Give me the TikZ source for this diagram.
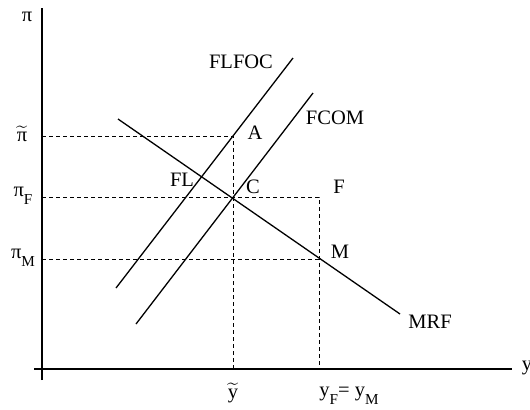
\documentclass[tikz,border=0pt]{standalone}
\usepackage{amsmath}
\usepackage{fontspec}
\setmainfont{Liberation Serif}
\usepackage{tikz}
\usetikzlibrary{positioning}
\newcommand{\lsub}[1]{\raisebox{-0.4em}{\fontsize{7.6}{8}\selectfont #1}}

\begin{document}
\begin{tikzpicture}[
  x=0.5pt, y=-0.5pt,
  font=\fontsize{10.25}{12}\selectfont,
  axis/.style={draw, line width=1pt},
  curve/.style={draw, line width=0.65pt},
  guide/.style={draw, line width=0.5pt, dash pattern=on 2pt off 1.5pt},
  lab/.style={inner sep=0pt},
]
  \useasboundingbox (0,0) rectangle (530,409);

  % axis ends and reference points
  \coordinate (ytop) at (42,8);
  \coordinate (ybot) at (42,380);
  \coordinate (xleft) at (34,369);
  \coordinate (xright) at (512,369);
  \coordinate (pitil) at (42,136);
  \coordinate (piF) at (42,197);
  \coordinate (piM) at (42,259);
  \coordinate (ytil) at (233,369);
  \coordinate (yF) at (319,369);
  \coordinate (ptM) at (319,259);

  % curve ends
  \coordinate (mrfA) at (118,119);
  \coordinate (mrfB) at (400,314);
  \coordinate (flA) at (116,288);
  \coordinate (flB) at (293,58);
  \coordinate (fcA) at (136,324);
  \coordinate (fcB) at (313,93);

  % dashed guides
  \draw[guide] (pitil) -| (ytil);
  \draw[guide] (piF) -| (yF);
  \draw[guide] (piM) -- (ptM);

  % axes
  \draw[axis] (ybot) -- (ytop);
  \draw[axis] (xleft) -- (xright);

  % schedules
  \draw[curve] (mrfA) -- (mrfB);
  \draw[curve] (flA) -- (flB);
  \draw[curve] (fcA) -- (fcB);

  % labels
  \node[lab] (lpi) at (27,17) {π};
  \node[lab] (lpitil) at (22,134) {$\widetilde{\text{π}}$};
  \node[lab] (lpiF) at (23,196) {π\lsub{F}};
  \node[lab] (lpiM) at (23,258) {π\lsub{M}};
  \node[lab] (ly) at (527,368) {y};
  \node[lab] (lytil) at (233,393) {$\widetilde{\text{y}}$};
  \node[lab] (lyFM) at (349,396) {y\lsub{F}= y\lsub{M}};
  \node[lab] (lflfoc) at (241,62) {FLFOC};
  \node[lab] (lfcom) at (335,118) {FCOM};
  \node[lab] (lA) at (255,133) {A};
  \node[lab] (lFL) at (182,180) {FL};
  \node[lab] (lC) at (253,187) {C};
  \node[lab] (lF) at (339,187) {F};
  \node[lab] (lM) at (340,252) {M};
  \node[lab] (lmrf) at (430,322) {MRF};
\end{tikzpicture}
\end{document}
